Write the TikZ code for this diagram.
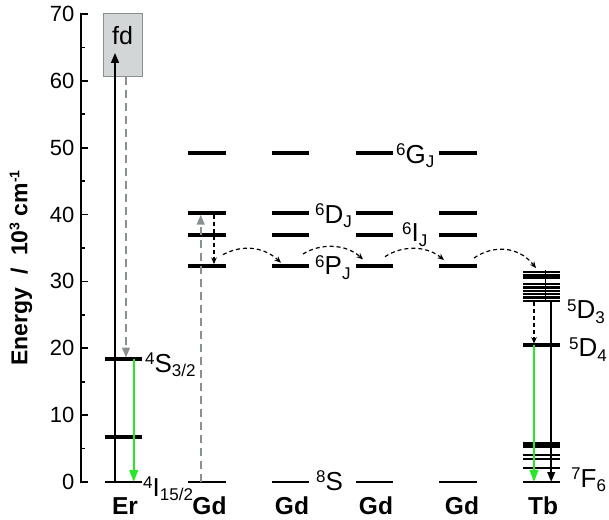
\documentclass[tikz,border=0pt]{standalone}
\usepackage{fontspec}
\setmainfont{Liberation Sans}
\usetikzlibrary{arrows.meta}
\definecolor{dgray}{RGB}{135,145,145}
\definecolor{boxfill}{RGB}{210,214,214}
\definecolor{lgreen}{RGB}{40,230,40}
\newcommand{\sps}[1]{\raisebox{7.5pt}{\fontsize{17}{17}\selectfont #1}}
\newcommand{\sbs}[1]{\raisebox{-4.5pt}{\fontsize{17}{17}\selectfont #1}}
\newcommand{\tsps}[1]{\raisebox{8pt}{\fontsize{14}{14}\selectfont\bfseries #1}}
\begin{document}
\begin{tikzpicture}[x=1pt,y=6.686pt,
  lvl/.style={line width=4pt},
  gnd/.style={line width=2.5pt},
  thinlvl/.style={line width=2.4pt},
  axisline/.style={line width=2.2pt},
  vline/.style={line width=2.3pt},
  ticklbl/.style={anchor=east,font=\fontsize{22}{22}\selectfont},
  ionlbl/.style={anchor=base,font=\fontsize{24.5}{24.5}\selectfont\bfseries},
  termlbl/.style={anchor=base west,inner sep=0pt,font=\fontsize{26}{26}\selectfont},
  blk/.style={-{Triangle[length=10pt,width=7.5pt]}},
  grayarr/.style={dgray,line width=2.2pt,dash pattern=on 8pt off 5pt,-{Triangle[length=10pt,width=7.5pt]}},
  smalldash/.style={line width=1.2pt,dash pattern=on 4pt off 3pt,-{Stealth[length=6.5pt,width=5.5pt]}},
  greenarr/.style={lgreen,line width=2.3pt,-{Triangle[length=12pt,width=8.5pt]}}
]
\useasboundingbox (0,-5.534) rectangle (609,72.09);

% axis
\draw[axisline] (81,-0.15) -- (81,70.15);
\foreach \v in {0,10,...,70}{
  \draw[line width=1.8pt] (81,\v) -- (88,\v);
  \node[ticklbl] at (78,\v) {\v};
}
\foreach \v in {5,15,...,65}{
  \draw[line width=1.6pt] (81,\v) -- (85,\v);
}
\node[rotate=90,font=\fontsize{23}{23}\selectfont\bfseries] (ytitle) at (21,32.0) {Energy~ /~ 10\tsps{3} cm\tsps{-1}};

% fd box
\node[draw=dgray,fill=boxfill,line width=1pt,minimum width=39pt,minimum height=62.8pt,inner sep=0pt,anchor=south west] (fd) at (103,60.6) {};
\node[font=\fontsize{25}{25}\selectfont,anchor=base] (fdtxt) at (122.5,65.4) {fd};

% Er levels
\draw[gnd] (105,0) -- (142,0);
\draw[lvl] (105,6.7) -- (142,6.7);
\draw[lvl] (105,18.4) -- (142,18.4);
\coordinate (erbot) at (115,0);
\coordinate (ertop) at (115,64.2);
\coordinate (gtop) at (126,60.6);
\coordinate (gbot) at (126,18.6);
\coordinate (grtop) at (133.7,18.4);
\coordinate (grbot) at (133.7,0);
\draw[vline,blk] (erbot) -- (ertop);
\draw[grayarr] (gtop) -- (gbot);
\draw[greenarr] (grtop) -- (grbot);

% Gd columns
\foreach \xa/\xb in {188/226,272/309,356/393,439/477}{
  \draw[lvl] (\xa,49.2) -- (\xb,49.2);
  \draw[lvl] (\xa,40.2) -- (\xb,40.2);
  \draw[lvl] (\xa,36.9) -- (\xb,36.9);
  \draw[lvl] (\xa,32.3) -- (\xb,32.3);
  \draw[gnd] (\xa,0) -- (\xb,0);
}
\coordinate (gdexb) at (200.7,0);
\coordinate (gdext) at (200.7,40.0);
\draw[grayarr] (gdexb) -- (gdext);
\coordinate (gdrt) at (214,40.0);
\coordinate (gdrb) at (214,32.6);
\draw[smalldash] (gdrt) -- (gdrb);

% transfer arcs
\coordinate (a1s) at (223,34.0);
\coordinate (a1e) at (281,32.8);
\coordinate (a2s) at (303,34.1);
\coordinate (a2e) at (363,33.3);
\coordinate (a3s) at (385,33.7);
\coordinate (a3e) at (444,33.2);
\coordinate (a4s) at (474,33.5);
\coordinate (a4e) at (536,32.0);
\draw[smalldash] (a1s) .. controls (240,35.4) and (262,35.4) .. (a1e);
\draw[smalldash] (a2s) .. controls (320,35.7) and (345,35.7) .. (a2e);
\draw[smalldash] (a3s) .. controls (402,35.4) and (426,35.4) .. (a3e);
\draw[smalldash] (a4s) .. controls (492,35.4) and (518,35.4) .. (a4e);

% Tb levels
\foreach \v in {31.4,31.0,30.6,29.6,29.1,28.6,28.1,27.6,27.1}{
  \draw[thinlvl] (523,\v) -- (560,\v);
}
\draw[line width=0.9pt] (545,31.7) -- (545,26.9);
\draw[lvl] (523,20.5) -- (560,20.5);
\draw[line width=6pt] (523,5.55) -- (560,5.55);
\draw[thinlvl] (523,4.0) -- (560,4.0);
\draw[thinlvl] (523,3.4) -- (560,3.4);
\draw[thinlvl] (523,2.1) -- (560,2.1);
\draw[gnd] (523,0) -- (560,0);
\coordinate (tbt) at (551.2,27.0);
\coordinate (tbb) at (551.2,0);
\draw[vline,blk] (tbt) -- (tbb);
\coordinate (tdt) at (534,26.9);
\coordinate (tdb) at (534,20.7);
\draw[smalldash] (tdt) -- (tdb);
\coordinate (tgt) at (534,20.5);
\coordinate (tgb) at (534,0);
\draw[greenarr] (tgt) -- (tgb);

% term labels
\node[termlbl] (s32) at (145,16.4) {\sps{4}S\sbs{3/2}};
\node[termlbl] (i152) at (143,-2.1) {\sps{4}I\sbs{15/2}};
\node[termlbl] (gj) at (396,47.7) {\sps{6}G\sbs{J}};
\node[termlbl] (dj) at (315,38.7) {\sps{6}D\sbs{J}};
\node[termlbl] (ij) at (402,35.9) {\sps{6}I\sbs{J}};
\node[termlbl] (pj) at (315,31.0) {\sps{6}P\sbs{J}};
\node[termlbl] (s8) at (316,-1.2) {\sps{8}S};
\node[termlbl] (d3) at (567,24.4) {\sps{5}D\sbs{3}};
\node[termlbl] (d4) at (569,18.7) {\sps{5}D\sbs{4}};
\node[termlbl] (f6) at (571,-0.8) {\sps{7}F\sbs{6}};

% ion labels
\node[ionlbl] (er) at (125,-4.8) {Er};
\node[ionlbl] (gd1) at (209.5,-4.8) {Gd};
\node[ionlbl] (gd2) at (292,-4.8) {Gd};
\node[ionlbl] (gd3) at (376,-4.8) {Gd};
\node[ionlbl] (gd4) at (462,-4.8) {Gd};
\node[ionlbl] (tb) at (543,-4.8) {Tb};
\end{tikzpicture}
\end{document}
